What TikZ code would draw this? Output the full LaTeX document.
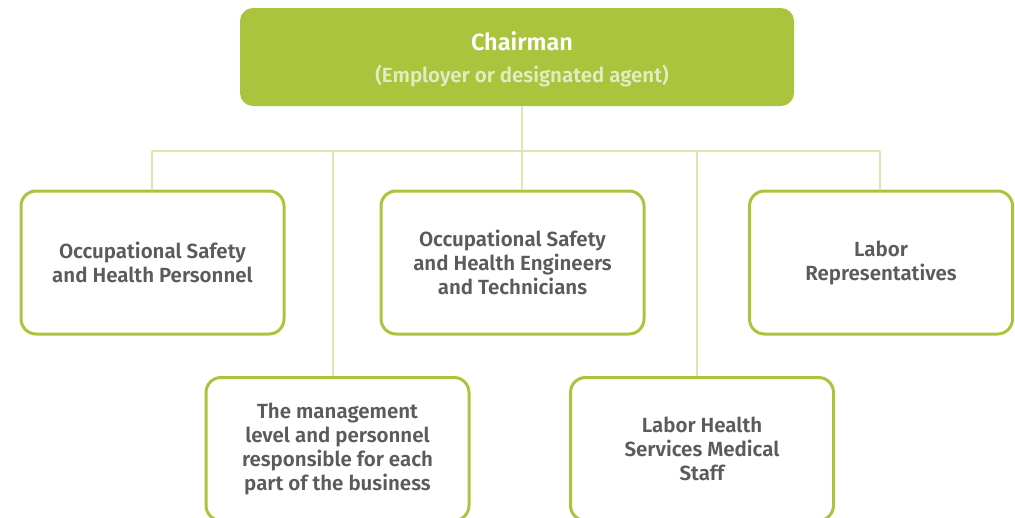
\documentclass[tikz,border=0pt]{standalone}
\usepackage{fontspec}
\setmainfont{Fira Sans}[BoldFont={Fira Sans SemiBold}]
\definecolor{boxgreen}{HTML}{AAC43E}
\definecolor{connline}{HTML}{DDE7B3}
\definecolor{txtgray}{HTML}{5B5B5B}
\definecolor{subtxt}{HTML}{E3ECC0}
\tikzset{
  orgbox/.style={draw=boxgreen, line width=3pt, rounded corners=15pt, fill=white,
    minimum width=263pt, minimum height=143pt, align=center, text=txtgray,
    font=\bfseries\fontsize{20.5}{24}\selectfont, inner sep=0pt},
  conn/.style={draw=connline, line width=1.5pt},
}
\begin{document}
\begin{tikzpicture}[x=1pt,y=-1pt]
\useasboundingbox (0,0) rectangle (1015,517);
\clip (0,0) rectangle (1015,517);
\coordinate (hl) at (152,151);
\coordinate (hr) at (880,151);
\coordinate (j4) at (333,151);
\coordinate (j5) at (697,151);
\node[fill=boxgreen, rounded corners=13pt, minimum width=554pt, minimum height=98pt, inner sep=0pt] (top) at (517,57) {};
\node[text=white, font=\bfseries\fontsize{23.5}{26}\selectfont] (chair) at (522,41) {Chairman};
\node[text=subtxt, font=\bfseries\fontsize{20.5}{24}\selectfont] (sub) at (522,76) {(Employer or designated agent)};
\node[orgbox] (b1) at (152.5,262.5) {Occupational Safety\\and Health Personnel};
\node[orgbox] (b2) at (512.5,262.5) {Occupational Safety\\and Health Engineers\\and Technicians};
\node[orgbox] (b3) at (881,262.5) {Labor\\Representatives};
\node[orgbox] (b4) at (337.5,449) {The management\\level and personnel\\responsible for each\\part of the business};
\node[orgbox] (b5) at (702,449) {Labor Health\\Services Medical\\Staff};
\draw[conn] (top.south -| chair) -- (b2.north -| chair);
\draw[conn] (hl) -- (hr);
\draw[conn] (hl) -- (hl |- b1.north);
\draw[conn] (hr) -- (hr |- b3.north);
\draw[conn] (j4) -- (j4 |- b4.north);
\draw[conn] (j5) -- (j5 |- b5.north);
\end{tikzpicture}
\end{document}
